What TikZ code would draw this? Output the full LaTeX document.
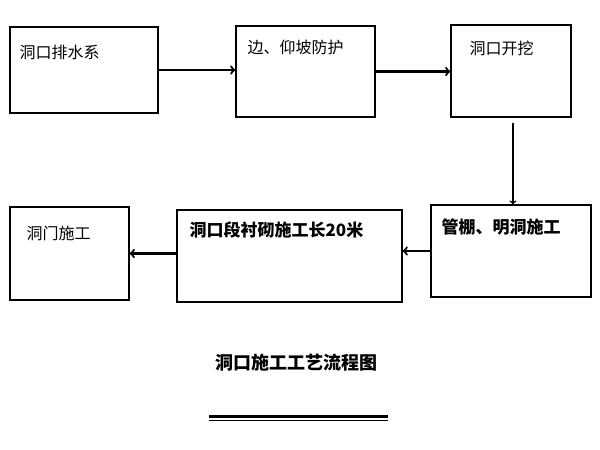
\documentclass[tikz,border=0pt]{standalone}
\usepackage{fontspec}
\setmainfont{Noto Sans CJK SC}
\usepackage{tikz}
\usetikzlibrary{calc}

\begin{document}
\begin{tikzpicture}[x=1pt,y=-1pt,
	box/.style={draw, line width=1.2pt, inner sep=0pt},
	flow/.style={->, line width=2.2pt},
	txt/.style={anchor=west, inner sep=0pt, font=\fontsize{16}{16}\selectfont}]
	\useasboundingbox (0,0) rectangle (600,450);

	% boxes
	\node[box, minimum width=148, minimum height=86] (b1) at (84,70) {};
	\node[box, minimum width=139, minimum height=91] (b2) at (305.5,71.5) {};
	\node[box, minimum width=120, minimum height=92] (b3) at (511,71) {};
	\node[box, minimum width=160, minimum height=92] (b4) at (511,251) {};
	\node[box, minimum width=225, minimum height=92] (b5) at (289.5,256) {};
	\node[box, minimum width=119, minimum height=93] (b6) at (69.5,253.5) {};

	% box texts
	\node[txt] (t1) at ($(b1.north west)+(10,26)$) {洞口排水系};
	\node[txt] (t2) at ($(b2.north west)+(12,22)$) {边、仰坡防护};
	\node[txt] (t3) at ($(b3.north west)+(19,24)$) {洞口开挖};
	\node[txt, font=\fontsize{17}{17}\selectfont\bfseries] (t4) at ($(b4.north west)+(11,23)$) {管棚、明洞施工};
	\node[txt, font=\fontsize{17}{17}\selectfont\bfseries] (t5) at ($(b5.north west)+(13,21)$) {洞口段衬砌施工长20米};
	\node[txt] (t6) at ($(b6.north west)+(17,27)$) {洞门施工};

	% arrows
	\draw[flow] (b1.east) -- (b1.east -| b2.west);
	\draw[flow] (b2.east) -- (b2.east -| b3.west);
	\draw[->, line width=1.5pt, shorten <=5pt] ([xshift=2pt]b3.south) -- ([xshift=2pt]b4.north);
	\draw[flow] (b4.west) -- (b4.west -| b5.east);
	\draw[flow] (b6.east -| b5.west) -- (b6.east);

	% title
	\node[font=\fontsize{18}{18}\selectfont\bfseries] (title) at (296,363) {洞口施工工艺流程图};
	\coordinate (L1) at (209,416.5);
	\coordinate (L2) at (388,416.5);
	\draw[line width=2.4pt] (L1) -- (L2);
	\draw[line width=1.8pt] ($(L1)+(0,4)$) -- ($(L2)+(0,4)$);

\end{tikzpicture}
\end{document}
